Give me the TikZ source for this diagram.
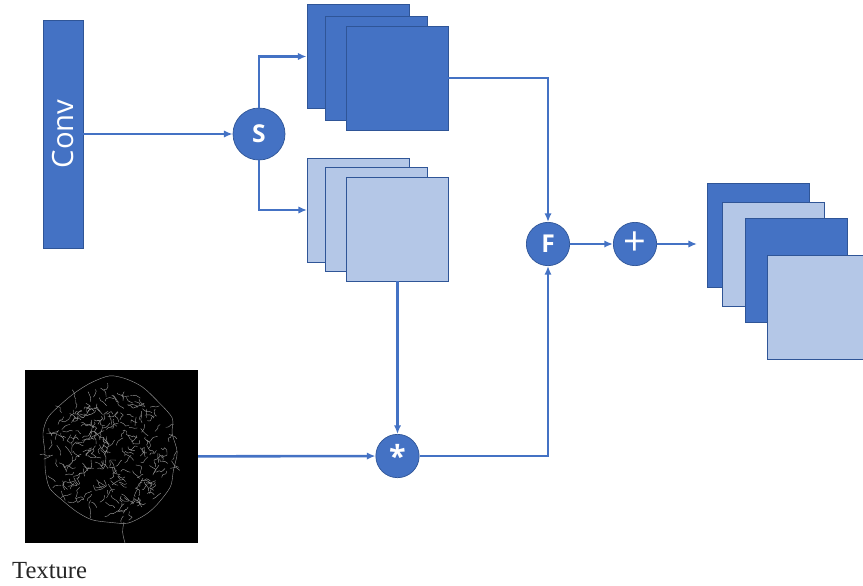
\documentclass[tikz,border=0pt]{standalone}
\usepackage{fontspec}
\setmainfont{Liberation Serif}
\newfontfamily\opensans{Open Sans}
\usetikzlibrary{arrows.meta,positioning}
\definecolor{mapdark}{RGB}{68,114,196}
\definecolor{maplight}{RGB}{180,199,231}
\definecolor{mapedge}{RGB}{47,85,151}

\begin{document}
\begin{tikzpicture}[x=0.03cm,y=-0.03cm,
  flow/.style={draw=mapdark, line width=2.2pt, -{Latex[length=2.6mm,width=2.2mm]}},
  fmap/.style={draw=mapedge, line width=0.8pt, minimum width=3.06cm, minimum height=3.12cm, inner sep=0pt},
  op/.style={circle, fill=mapdark, draw=mapedge, line width=0.6pt, text=white, inner sep=0pt, minimum size=1.3cm, font=\opensans\bfseries\fontsize{21}{21}\selectfont}]
\useasboundingbox (0,0) rectangle (863,586);

% conv block and split
\node[fill=mapdark, draw=mapedge, line width=0.6pt, rotate=90, minimum width=6.84cm, minimum height=1.2cm, inner sep=0pt, text=white, font=\opensans\fontsize{25}{25}\selectfont] (conv) at (63,134) {Conv};
\node[op, minimum size=1.56cm] (split) at (259,134) {S};

% feature maps after the split
\node[fmap, fill=mapdark] (top1) at (358,56.5) {};
\node[fmap, fill=mapdark] (top2) at (376,68) {};
\node[fmap, fill=mapdark] (top3) at (397,78) {};
\node[fmap, fill=maplight] (bot1) at (358.5,210) {};
\node[fmap, fill=maplight] (bot2) at (376,219.5) {};
\node[fmap, fill=maplight] (bot3) at (397.5,229) {};

% texture input
\node[fill=black, minimum size=5.19cm, inner sep=0pt] (tex) at (111.5,456.5) {};
\node[anchor=base west, inner sep=0pt, text=black!85, font=\fontsize{21}{25}\selectfont] (texlabel) at (12,578) {Texture};
\begin{scope}[draw=white!60!black, line width=0.35pt]
  \pgfmathsetseed{11}
  \draw plot[smooth cycle, domain=0:345, samples=24] ({110+(64+9*rnd)*cos(\x)},{452+(68+9*rnd)*sin(\x)});
  \foreach \i in {1,...,260}{
    \pgfmathsetmacro\ang{rnd*360}
    \pgfmathsetmacro\rad{sqrt(rnd)*64}
    \pgfmathsetmacro\cx{110+\rad*cos(\ang)}
    \pgfmathsetmacro\cy{452+\rad*sin(\ang)}
    \pgfmathsetmacro\dir{rnd*360}
    \draw plot[smooth, domain=0:3, samples=4] ({\cx+3*\x*cos(\dir+40*rnd)+2*rnd},{\cy+3*\x*sin(\dir+40*rnd)+2*rnd});
  }
  \draw (124,522) .. controls (122,532) .. (125,543);
\end{scope}

% operators
\node[op] (mul) at (397.5,456) {\raisebox{-0.3em}{\fontsize{26}{26}\selectfont *}};
\node[op] (fuse) at (548,244) {F};
\node[op] (plus) at (635,244) {\mdseries\fontsize{34}{34}\selectfont +};

% output feature maps
\node[fmap, fill=mapdark] (out1) at (758.5,235.5) {};
\node[fmap, fill=maplight] (out2) at (773.5,254) {};
\node[fmap, fill=mapdark] (out3) at (796,270) {};
\node[fmap, fill=maplight] (out4) at (818,307) {};

% connections
\draw[flow] (conv) -- (split);
\draw[flow] (split.north) |- (top1.west);
\draw[flow] (split.south) |- (bot1.west);
\draw[flow] (top3.east) -| (fuse.north);
\draw[flow] (bot3.south) -- (mul.north);
\draw[flow] (tex) -- (mul);
\draw[flow] (mul.east) -| (fuse.south);
\draw[flow] (fuse) -- (plus);
\draw[flow, shorten >=0.3cm] (plus) -- (plus -| out1.west);
\end{tikzpicture}
\end{document}
